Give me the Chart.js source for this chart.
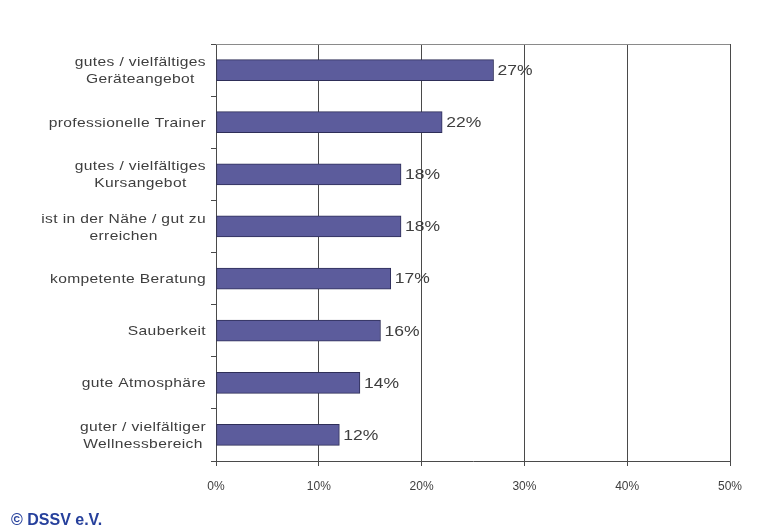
<!DOCTYPE html>
<html>
<head>
<meta charset="utf-8">
<script src="https://cdn.jsdelivr.net/npm/chart.js@4"></script>
<style>
  html, body { margin: 0; padding: 0; background: #fff; }
  #wrap { position: relative; width: 776px; height: 532px; }
  #copy {
    position: absolute; left: 11px; top: 511px;
    font: bold 16px "Liberation Sans", Arial, sans-serif;
    color: #26409c;
  }
</style>
</head>
<body>
<div id="wrap">
  <canvas id="chart" width="776" height="532"></canvas>
  <div id="copy">© DSSV e.V.</div>
</div>
<script>
const CATEGORIES = [
    ['gutes / vielfältiges', 'Geräteangebot'],
    'professionelle Trainer',
    ['gutes / vielfältiges', 'Kursangebot'],
    ['ist in der Nähe / gut zu', 'erreichen'],
    'kompetente Beratung',
    'Sauberkeit',
    'gute Atmosphäre',
    ['guter / vielfältiger', 'Wellnessbereich']
];
const VALUES = [27, 22, 18, 18, 17, 16, 14, 12];
const X_TICKS = [0, 10, 20, 30, 40, 50];

const BAR_COLOR = '#5c5c9c';
const BAR_BORDER = '#2e2e58';
const TEXT_COLOR = '#3e3e3e';
const FONT = '"Liberation Sans", Arial, sans-serif';

// the source picture is stretched sideways, so its texts are drawn a little wider
const STRETCH = 1.2;

// category labels: block right-aligned, lines centred inside the block
const categoryLabels = {
    id: 'categoryLabels',
    afterDraw(chart) {
        const ctx = chart.ctx;
        const yScale = chart.scales.y;
        const lineH = 17;
        ctx.save();
        ctx.translate(206, 1);
        ctx.scale(STRETCH, 1);
        ctx.font = '13px ' + FONT;
        ctx.letterSpacing = '0.3px';
        ctx.fillStyle = TEXT_COLOR;
        ctx.textAlign = 'center';
        ctx.textBaseline = 'middle';
        CATEGORIES.forEach((label, i) => {
            const lines = Array.isArray(label) ? label : [label];
            const w = Math.max(...lines.map(l => ctx.measureText(l).width));
            const y0 = yScale.getPixelForTick(i) - (lines.length - 1) * lineH / 2;
            lines.forEach((l, j) => ctx.fillText(l, -w / 2, y0 + j * lineH));
        });
        ctx.restore();
    }
};

// value labels right of each bar
const valueLabels = {
    id: 'valueLabels',
    afterDatasetsDraw(chart) {
        const ctx = chart.ctx;
        const meta = chart.getDatasetMeta(0);
        ctx.save();
        ctx.font = '14px ' + FONT;
        ctx.fillStyle = TEXT_COLOR;
        ctx.textAlign = 'left';
        ctx.textBaseline = 'middle';
        meta.data.forEach((bar, i) => {
            ctx.save();
            ctx.translate(bar.x + 4, bar.y + 1);
            ctx.scale(1.25, 1);
            ctx.fillText(VALUES[i] + '%', 0, 0);
            ctx.restore();
        });
        ctx.restore();
    }
};

// top border of plot area
const frameTop = {
    id: 'frameTop',
    beforeDatasetsDraw(chart) {
        const a = chart.chartArea;
        const ctx = chart.ctx;
        ctx.save();
        ctx.strokeStyle = '#8a8a8a';
        ctx.lineWidth = 1;
        ctx.beginPath();
        ctx.moveTo(a.left, a.top + 0.5);
        ctx.lineTo(a.right, a.top + 0.5);
        ctx.stroke();
        ctx.restore();
    }
};

new Chart(document.getElementById('chart'), {
    type: 'bar',
    data: {
        labels: CATEGORIES,
        datasets: [{
            data: VALUES,
            backgroundColor: BAR_COLOR,
            borderColor: BAR_BORDER,
            borderWidth: 1,
            borderSkipped: false,
            barThickness: 21
        }]
    },
    options: {
        indexAxis: 'y',
        responsive: false,
        animation: false,
        layout: { padding: { left: 0, right: 46, top: 44, bottom: 0 } },
        plugins: {
            legend: { display: false },
            tooltip: { enabled: false }
        },
        scales: {
            x: {
                min: 0,
                max: 50,
                afterBuildTicks: scale => { scale.ticks = X_TICKS.map(v => ({ value: v })); },
                afterFit: scale => { scale.height = 71; },
                grid: { color: '#4a4a4a', lineWidth: 1, tickLength: 5 },
                border: { color: '#4a4a4a' },
                ticks: {
                    padding: 13,
                    color: TEXT_COLOR,
                    font: { family: FONT, size: 12 },
                    callback: v => v + '%'
                }
            },
            y: {
                afterFit: scale => { scale.width = 216; },
                grid: { drawOnChartArea: false, tickLength: 5, color: '#4a4a4a' },
                border: { color: '#4a4a4a' },
                ticks: { display: false }
            }
        }
    },
    plugins: [frameTop, valueLabels, categoryLabels]
});
</script>
</body>
</html>
